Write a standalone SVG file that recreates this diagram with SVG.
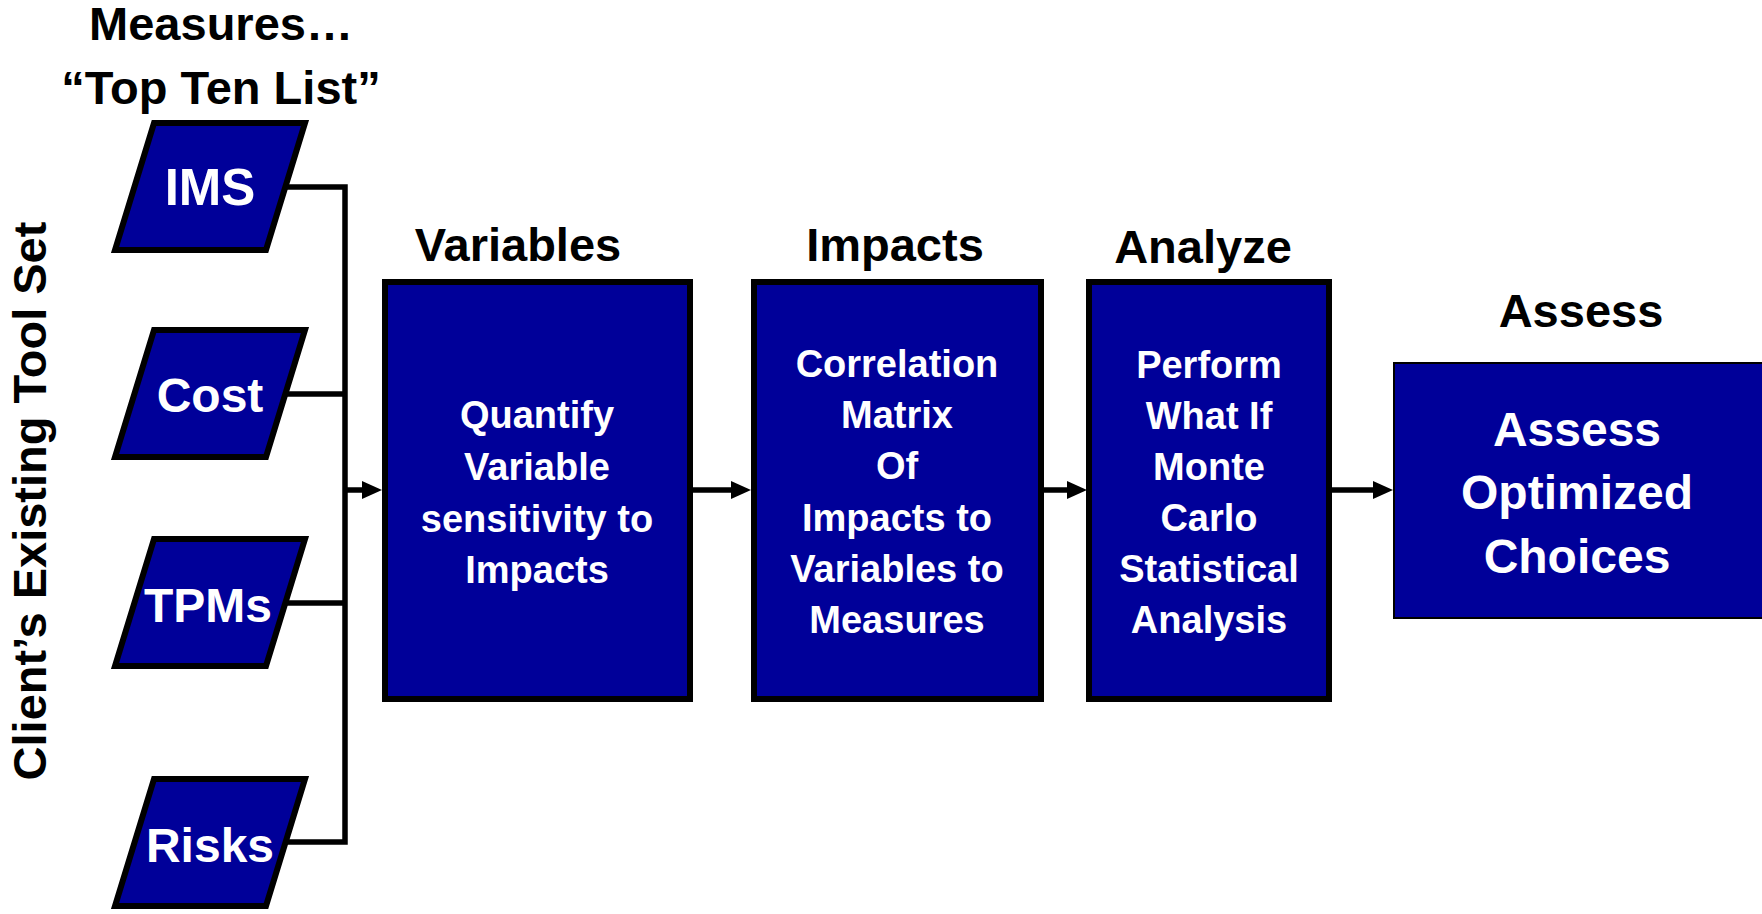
<svg xmlns="http://www.w3.org/2000/svg" width="1762" height="914" viewBox="0 0 1762 914">
<style>
.t{font-family:"Liberation Sans",Arial,sans-serif;font-weight:bold;text-anchor:middle}
.title{font-size:47px;fill:#000}
.lbl{font-size:38px;fill:#fff}
.plbl{font-size:48px;fill:#fff}
.para{fill:#000099;stroke:#000;stroke-width:6;stroke-linejoin:miter}
.box{fill:#000099;stroke:#000;stroke-width:6}
.conn{fill:none;stroke:#000;stroke-width:5.5}
</style>
<defs>
<marker id="ah" viewBox="0 0 20 18" refX="4" refY="9" markerWidth="20" markerHeight="18" markerUnits="userSpaceOnUse" orient="auto">
<path d="M0,0 L20,9 L0,18 z" fill="#000"/>
</marker>
</defs>
<rect width="1762" height="914" fill="#fff"/>
<g id="header">
<text class="t title" x="221" y="40">Measures…</text>
<text class="t title" x="221" y="104">“Top Ten List”</text>
<text class="t title" transform="translate(46,501) rotate(-90)" x="0" y="0">Client’s Existing Tool Set</text>
</g>
<g id="connectors">
<polyline class="conn" points="285,187 345,187 345,842 285,842"/>
<line class="conn" x1="285" y1="394" x2="345" y2="394"/>
<line class="conn" x1="285" y1="603" x2="345" y2="603"/>
<line class="conn" x1="343" y1="490" x2="366" y2="490" marker-end="url(#ah)"/>
<line class="conn" x1="693" y1="490" x2="735" y2="490" marker-end="url(#ah)"/>
<line class="conn" x1="1044" y1="490" x2="1071" y2="490" marker-end="url(#ah)"/>
<line class="conn" x1="1332" y1="490" x2="1377" y2="490" marker-end="url(#ah)"/>
</g>
<g id="ims">
<polygon class="para" points="154,123 305,123 266,250 115,250"/>
<text class="t plbl" x="210" y="205" style="font-size:51px">IMS</text>
</g>
<g id="cost">
<polygon class="para" points="154,330 305,330 266,457 115,457"/>
<text class="t plbl" x="210" y="412">Cost</text>
</g>
<g id="tpms">
<polygon class="para" points="154,539 305,539 266,666 115,666"/>
<text class="t plbl" x="208" y="622">TPMs</text>
</g>
<g id="risks">
<polygon class="para" points="154,779 305,779 266,906 115,906"/>
<text class="t plbl" x="210" y="862">Risks</text>
</g>
<g id="variables">
<text class="t title" x="518" y="261">Variables</text>
<rect class="box" x="385" y="282" width="305" height="417"/>
<text class="t lbl" x="537" y="428">Quantify</text>
<text class="t lbl" x="537" y="480">Variable</text>
<text class="t lbl" x="537" y="532">sensitivity to</text>
<text class="t lbl" x="537" y="583">Impacts</text>
</g>
<g id="impacts">
<text class="t title" x="895" y="261">Impacts</text>
<rect class="box" x="754" y="282" width="287" height="417"/>
<text class="t lbl" x="897" y="377">Correlation</text>
<text class="t lbl" x="897" y="428">Matrix</text>
<text class="t lbl" x="897" y="479">Of</text>
<text class="t lbl" x="897" y="531">Impacts to</text>
<text class="t lbl" x="897" y="582">Variables to</text>
<text class="t lbl" x="897" y="633">Measures</text>
</g>
<g id="analyze">
<text class="t title" x="1203" y="263">Analyze</text>
<rect class="box" x="1089" y="282" width="240" height="417"/>
<text class="t lbl" x="1209" y="378">Perform</text>
<text class="t lbl" x="1209" y="429">What If</text>
<text class="t lbl" x="1209" y="480">Monte</text>
<text class="t lbl" x="1209" y="531">Carlo</text>
<text class="t lbl" x="1209" y="582">Statistical</text>
<text class="t lbl" x="1209" y="633">Analysis</text>
</g>
<g id="assess">
<text class="t title" x="1581" y="327">Assess</text>
<rect x="1394" y="363" width="380" height="255" fill="#000099" stroke="#000" stroke-width="2"/>
<text class="t plbl" x="1577" y="446">Assess</text>
<text class="t plbl" x="1577" y="509">Optimized</text>
<text class="t plbl" x="1577" y="573">Choices</text>
</g>
</svg>
